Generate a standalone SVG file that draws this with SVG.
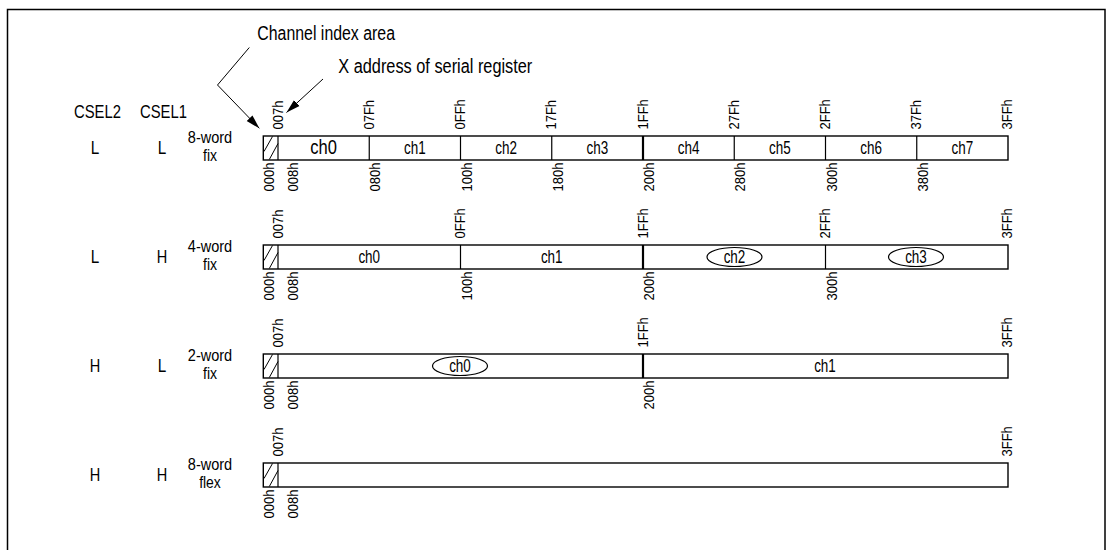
<svg xmlns="http://www.w3.org/2000/svg" width="1112" height="550" viewBox="0 0 1112 550">
<defs>
<marker id="ah" markerUnits="userSpaceOnUse" markerWidth="15" markerHeight="10" viewBox="0 0 15 10" refX="14" refY="5" orient="auto">
<path d="M0,1 L14,5 L0,9 Z" fill="#000"/>
</marker>
</defs>
<style>
text{font-family:"Liberation Sans",Arial,sans-serif;fill:#000}
.big{font-size:19.5px}
.sel{font-size:19px;text-anchor:middle}
.wd{font-size:16px;text-anchor:middle}
.ch{font-size:17.5px;text-anchor:middle}
.hx{font-size:15.5px}
.top{text-anchor:start}
.bot{text-anchor:end}
.bar{fill:#fff;stroke:#000;stroke-width:1.4}
.dv{stroke:#000;stroke-width:1.2}
.dvk{stroke:#000;stroke-width:2.2}
.ht{stroke:#000;stroke-width:1}
.el{fill:none;stroke:#000;stroke-width:1.2}
.ln{fill:none;stroke:#000;stroke-width:1}
</style>
<rect x="7.5" y="9.5" width="1097.5" height="560" fill="#fff" stroke="#000" stroke-width="1.5"/>

<g id="titles">
<text class="big" x="257.3" y="39.7" textLength="137.7" lengthAdjust="spacingAndGlyphs">Channel index area</text>
<text class="big" x="338.3" y="72.7" textLength="194" lengthAdjust="spacingAndGlyphs">X address of serial register</text>
<text class="sel" x="97.5" y="117.5" textLength="47" lengthAdjust="spacingAndGlyphs">CSEL2</text>
<text class="sel" x="163.5" y="117.5" textLength="47" lengthAdjust="spacingAndGlyphs">CSEL1</text>
</g>

<g id="connectors">
<polyline class="ln" points="249.3,47.5 217.5,85 259.3,128.3" marker-end="url(#ah)"/>
<line class="ln" x1="323" y1="79" x2="286.5" y2="112.5" marker-end="url(#ah)"/>
</g>

<!-- Row 1 -->
<g id="row1">
<text class="sel" x="95" y="154" textLength="8.5" lengthAdjust="spacingAndGlyphs">L</text>
<text class="sel" x="162" y="154" textLength="8.5" lengthAdjust="spacingAndGlyphs">L</text>
<text class="wd" x="210" y="142.5" textLength="44.3" lengthAdjust="spacingAndGlyphs">8-word</text>
<text class="wd" x="210" y="161" textLength="14" lengthAdjust="spacingAndGlyphs">fix</text>
<rect class="bar" x="263.3" y="136" width="744.7" height="24"/>
<line class="dv" x1="278" y1="136" x2="278" y2="160"/>
<line class="ht" x1="264" y1="151.5" x2="272.5" y2="136.5"/>
<line class="ht" x1="269.3" y1="159.5" x2="278" y2="143.5"/>
<line class="dv" x1="369.25" y1="136" x2="369.25" y2="160"/>
<line class="dv" x1="460.5" y1="136" x2="460.5" y2="160"/>
<line class="dv" x1="551.75" y1="136" x2="551.75" y2="160"/>
<line class="dvk" x1="643" y1="136" x2="643" y2="160"/>
<line class="dv" x1="734.25" y1="136" x2="734.25" y2="160"/>
<line class="dv" x1="825.5" y1="136" x2="825.5" y2="160"/>
<line class="dv" x1="916.75" y1="136" x2="916.75" y2="160"/>
<text class="ch" x="323.6" y="154" style="font-size:19.5px" textLength="26.7" lengthAdjust="spacingAndGlyphs">ch0</text>
<text class="ch" x="414.9" y="153.5" textLength="21.7" lengthAdjust="spacingAndGlyphs">ch1</text>
<text class="ch" x="506.1" y="153.5" textLength="21.7" lengthAdjust="spacingAndGlyphs">ch2</text>
<text class="ch" x="597.4" y="153.5" textLength="21.7" lengthAdjust="spacingAndGlyphs">ch3</text>
<text class="ch" x="688.6" y="153.5" textLength="21.7" lengthAdjust="spacingAndGlyphs">ch4</text>
<text class="ch" x="779.9" y="153.5" textLength="21.7" lengthAdjust="spacingAndGlyphs">ch5</text>
<text class="ch" x="871.1" y="153.5" textLength="21.7" lengthAdjust="spacingAndGlyphs">ch6</text>
<text class="ch" x="962.4" y="153.5" textLength="21.7" lengthAdjust="spacingAndGlyphs">ch7</text>
<text class="hx top" transform="translate(282.5,129.5) rotate(-90)" textLength="29" lengthAdjust="spacingAndGlyphs">007h</text>
<text class="hx top" transform="translate(373.75,129.5) rotate(-90)" textLength="29.6" lengthAdjust="spacingAndGlyphs">07Fh</text>
<text class="hx top" transform="translate(465,129.5) rotate(-90)" textLength="30.3" lengthAdjust="spacingAndGlyphs">0FFh</text>
<text class="hx top" transform="translate(556.25,129.5) rotate(-90)" textLength="29.6" lengthAdjust="spacingAndGlyphs">17Fh</text>
<text class="hx top" transform="translate(647.5,129.5) rotate(-90)" textLength="30.3" lengthAdjust="spacingAndGlyphs">1FFh</text>
<text class="hx top" transform="translate(738.75,129.5) rotate(-90)" textLength="29.6" lengthAdjust="spacingAndGlyphs">27Fh</text>
<text class="hx top" transform="translate(830,129.5) rotate(-90)" textLength="30.3" lengthAdjust="spacingAndGlyphs">2FFh</text>
<text class="hx top" transform="translate(921.25,129.5) rotate(-90)" textLength="29.6" lengthAdjust="spacingAndGlyphs">37Fh</text>
<text class="hx top" transform="translate(1011.5,129.5) rotate(-90)" textLength="30.3" lengthAdjust="spacingAndGlyphs">3FFh</text>
<text class="hx bot" transform="translate(274,162.5) rotate(-90)" textLength="29" lengthAdjust="spacingAndGlyphs">000h</text>
<text class="hx bot" transform="translate(298,162.5) rotate(-90)" textLength="29" lengthAdjust="spacingAndGlyphs">008h</text>
<text class="hx bot" transform="translate(380.25,162.5) rotate(-90)" textLength="29" lengthAdjust="spacingAndGlyphs">080h</text>
<text class="hx bot" transform="translate(471.5,162.5) rotate(-90)" textLength="29" lengthAdjust="spacingAndGlyphs">100h</text>
<text class="hx bot" transform="translate(562.75,162.5) rotate(-90)" textLength="29" lengthAdjust="spacingAndGlyphs">180h</text>
<text class="hx bot" transform="translate(654,162.5) rotate(-90)" textLength="29" lengthAdjust="spacingAndGlyphs">200h</text>
<text class="hx bot" transform="translate(745.25,162.5) rotate(-90)" textLength="29" lengthAdjust="spacingAndGlyphs">280h</text>
<text class="hx bot" transform="translate(836.5,162.5) rotate(-90)" textLength="29" lengthAdjust="spacingAndGlyphs">300h</text>
<text class="hx bot" transform="translate(927.75,162.5) rotate(-90)" textLength="29" lengthAdjust="spacingAndGlyphs">380h</text>
</g>

<!-- Row 2 -->
<g id="row2">
<text class="sel" x="95" y="263" textLength="8.5" lengthAdjust="spacingAndGlyphs">L</text>
<text class="sel" x="162" y="263" textLength="10.5" lengthAdjust="spacingAndGlyphs">H</text>
<text class="wd" x="210" y="251.5" textLength="44.3" lengthAdjust="spacingAndGlyphs">4-word</text>
<text class="wd" x="210" y="270" textLength="14" lengthAdjust="spacingAndGlyphs">fix</text>
<rect class="bar" x="263.3" y="245" width="744.7" height="24"/>
<line class="dv" x1="278" y1="245" x2="278" y2="269"/>
<line class="ht" x1="264" y1="260.5" x2="272.5" y2="245.5"/>
<line class="ht" x1="269.3" y1="268.5" x2="278" y2="252.5"/>
<line class="dv" x1="460.5" y1="245" x2="460.5" y2="269"/>
<line class="dvk" x1="643" y1="245" x2="643" y2="269"/>
<line class="dv" x1="825.5" y1="245" x2="825.5" y2="269"/>
<text class="ch" x="369.25" y="262.5" textLength="21.7" lengthAdjust="spacingAndGlyphs">ch0</text>
<text class="ch" x="551.75" y="262.5" textLength="21.7" lengthAdjust="spacingAndGlyphs">ch1</text>
<ellipse class="el" cx="734.5" cy="257" rx="27.5" ry="9.5"/>
<text class="ch" x="734.5" y="262.5" textLength="21.7" lengthAdjust="spacingAndGlyphs">ch2</text>
<ellipse class="el" cx="916" cy="257" rx="27.5" ry="9.5"/>
<text class="ch" x="916" y="262.5" textLength="21.7" lengthAdjust="spacingAndGlyphs">ch3</text>
<text class="hx top" transform="translate(282.5,238.5) rotate(-90)" textLength="29" lengthAdjust="spacingAndGlyphs">007h</text>
<text class="hx top" transform="translate(465,238.5) rotate(-90)" textLength="30.3" lengthAdjust="spacingAndGlyphs">0FFh</text>
<text class="hx top" transform="translate(647.5,238.5) rotate(-90)" textLength="30.3" lengthAdjust="spacingAndGlyphs">1FFh</text>
<text class="hx top" transform="translate(830,238.5) rotate(-90)" textLength="30.3" lengthAdjust="spacingAndGlyphs">2FFh</text>
<text class="hx top" transform="translate(1011.5,238.5) rotate(-90)" textLength="30.3" lengthAdjust="spacingAndGlyphs">3FFh</text>
<text class="hx bot" transform="translate(274,271.5) rotate(-90)" textLength="29" lengthAdjust="spacingAndGlyphs">000h</text>
<text class="hx bot" transform="translate(298,271.5) rotate(-90)" textLength="29" lengthAdjust="spacingAndGlyphs">008h</text>
<text class="hx bot" transform="translate(471.5,271.5) rotate(-90)" textLength="29" lengthAdjust="spacingAndGlyphs">100h</text>
<text class="hx bot" transform="translate(654,271.5) rotate(-90)" textLength="29" lengthAdjust="spacingAndGlyphs">200h</text>
<text class="hx bot" transform="translate(836.5,271.5) rotate(-90)" textLength="29" lengthAdjust="spacingAndGlyphs">300h</text>
</g>

<!-- Row 3 -->
<g id="row3">
<text class="sel" x="95" y="372" textLength="10.5" lengthAdjust="spacingAndGlyphs">H</text>
<text class="sel" x="162" y="372" textLength="8.5" lengthAdjust="spacingAndGlyphs">L</text>
<text class="wd" x="210" y="360.5" textLength="44.3" lengthAdjust="spacingAndGlyphs">2-word</text>
<text class="wd" x="210" y="379" textLength="14" lengthAdjust="spacingAndGlyphs">fix</text>
<rect class="bar" x="263.3" y="354" width="744.7" height="24"/>
<line class="dv" x1="278" y1="354" x2="278" y2="378"/>
<line class="ht" x1="264" y1="369.5" x2="272.5" y2="354.5"/>
<line class="ht" x1="269.3" y1="377.5" x2="278" y2="361.5"/>
<line class="dvk" x1="643" y1="354" x2="643" y2="378"/>
<ellipse class="el" cx="460" cy="366" rx="27.5" ry="9.5"/>
<text class="ch" x="460" y="371.5" textLength="21.7" lengthAdjust="spacingAndGlyphs">ch0</text>
<text class="ch" x="825" y="371.5" textLength="21.7" lengthAdjust="spacingAndGlyphs">ch1</text>
<text class="hx top" transform="translate(282.5,347.5) rotate(-90)" textLength="29" lengthAdjust="spacingAndGlyphs">007h</text>
<text class="hx top" transform="translate(647.5,347.5) rotate(-90)" textLength="30.3" lengthAdjust="spacingAndGlyphs">1FFh</text>
<text class="hx top" transform="translate(1011.5,347.5) rotate(-90)" textLength="30.3" lengthAdjust="spacingAndGlyphs">3FFh</text>
<text class="hx bot" transform="translate(274,380.5) rotate(-90)" textLength="29" lengthAdjust="spacingAndGlyphs">000h</text>
<text class="hx bot" transform="translate(298,380.5) rotate(-90)" textLength="29" lengthAdjust="spacingAndGlyphs">008h</text>
<text class="hx bot" transform="translate(654,380.5) rotate(-90)" textLength="29" lengthAdjust="spacingAndGlyphs">200h</text>
</g>

<!-- Row 4 -->
<g id="row4">
<text class="sel" x="95" y="481" textLength="10.5" lengthAdjust="spacingAndGlyphs">H</text>
<text class="sel" x="162" y="481" textLength="10.5" lengthAdjust="spacingAndGlyphs">H</text>
<text class="wd" x="210" y="469.5" textLength="44.3" lengthAdjust="spacingAndGlyphs">8-word</text>
<text class="wd" x="210" y="488" textLength="21.7" lengthAdjust="spacingAndGlyphs">flex</text>
<rect class="bar" x="263.3" y="463" width="744.7" height="24"/>
<line class="dv" x1="278" y1="463" x2="278" y2="487"/>
<line class="ht" x1="264" y1="478.5" x2="272.5" y2="463.5"/>
<line class="ht" x1="269.3" y1="486.5" x2="278" y2="470.5"/>
<text class="hx top" transform="translate(282.5,456.5) rotate(-90)" textLength="29" lengthAdjust="spacingAndGlyphs">007h</text>
<text class="hx top" transform="translate(1011.5,456.5) rotate(-90)" textLength="30.3" lengthAdjust="spacingAndGlyphs">3FFh</text>
<text class="hx bot" transform="translate(274,489.5) rotate(-90)" textLength="29" lengthAdjust="spacingAndGlyphs">000h</text>
<text class="hx bot" transform="translate(298,489.5) rotate(-90)" textLength="29" lengthAdjust="spacingAndGlyphs">008h</text>
</g>
</svg>
